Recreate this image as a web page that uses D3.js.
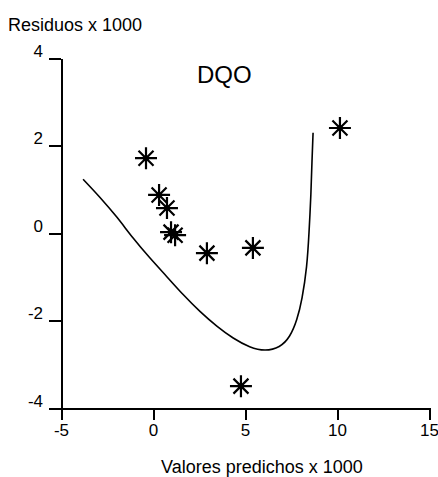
<!DOCTYPE html>
<html>
<head>
<meta charset="utf-8">
<script src="https://cdn.jsdelivr.net/npm/d3@7"></script>
<style>
  html, body { margin: 0; padding: 0; background: #fff; }
  svg text { font-family: Arial, "Liberation Sans", sans-serif; fill: #000; }
</style>
</head>
<body>
<svg id="chart" width="438" height="477"></svg>
<script>
// Residuals vs. predicted values (both x 1000)
const predicted = [-0.38, 0.33, 0.76, 0.98, 1.2, 2.93, 5.43, 10.16, 4.78];
const residuals = [1.71, 0.87, 0.57, 0.02, -0.05, -0.46, -0.34, 2.4, -3.5];

// Smoothed trend curve
const curveX = [-3.8, -2.88, -1.96, -1.09, -0.16, 0.76, 1.63, 2.55, 3.48, 4.35, 5.27, 6.09, 6.9, 7.45, 7.83, 8.1, 8.37, 8.48, 8.59, 8.64, 8.7];
const curveY = [1.23, 0.82, 0.37, -0.12, -0.58, -1.0, -1.41, -1.8, -2.14, -2.41, -2.62, -2.7, -2.62, -2.38, -1.99, -1.53, -0.78, 0.0, 0.91, 1.67, 2.29];

const xTicks = [-5, 0, 5, 10, 15];
const yTicks = [-4, -2, 0, 2, 4];

const svg = d3.select("#chart");

const x = d3.scaleLinear().domain([-5, 15]).range([61, 429]);
const y = d3.scaleLinear().domain([-4, 4]).range([408, 58]);

const minus = d => d < 0 ? "-" + Math.abs(d) : d;

// Y axis
const yAxis = svg.append("g")
  .attr("transform", `translate(${x(-5)},0)`)
  .call(d3.axisLeft(y).tickValues(yTicks).tickSize(12).tickSizeOuter(0).tickPadding(6)
    .tickFormat(minus));
yAxis.select(".domain").attr("stroke", "#000").attr("stroke-width", 2)
  .attr("shape-rendering", "crispEdges");
yAxis.selectAll(".tick line").attr("stroke", "#000").attr("stroke-width", 2)
  .attr("shape-rendering", "crispEdges");
yAxis.selectAll(".tick text")
  .attr("font-size", 17)
  .attr("dy", "-0.1em")
  .attr("font-family", "Arial, 'Liberation Sans', sans-serif");

// X axis
const xAxis = svg.append("g")
  .attr("transform", `translate(0,${y(-4)})`)
  .call(d3.axisBottom(x).tickValues(xTicks).tickSize(12).tickSizeOuter(0).tickPadding(4)
    .tickFormat(minus));
xAxis.select(".domain").attr("stroke", "#000").attr("stroke-width", 2)
  .attr("shape-rendering", "crispEdges");
xAxis.selectAll(".tick line").attr("stroke", "#000").attr("stroke-width", 2)
  .attr("shape-rendering", "crispEdges");
xAxis.selectAll(".tick text")
  .attr("font-size", 17)
  .attr("font-family", "Arial, 'Liberation Sans', sans-serif");

// Trend curve
const line = d3.line()
  .x(d => x(d[0]))
  .y(d => y(d[1]))
  .curve(d3.curveBasis);
svg.append("path")
  .datum(curveX.map((v, i) => [v, curveY[i]]))
  .attr("d", line)
  .attr("fill", "none")
  .attr("stroke", "#000")
  .attr("stroke-width", 1.6);

// Eight-armed asterisk markers
function asterisk(r, rd) {
  return `M0,${-r}V${r}M${-r},0H${r}M${-rd},${-rd}L${rd},${rd}M${-rd},${rd}L${rd},${-rd}`;
}
const pts = predicted.map((v, i) => [v, residuals[i]]);
svg.append("g").selectAll("path")
  .data(pts)
  .join("path")
  .attr("transform", d => `translate(${x(d[0])},${y(d[1])})`)
  .attr("d", asterisk(11, 7.5))
  .attr("fill", "none")
  .attr("stroke", "#000")
  .attr("stroke-width", 2.2);
svg.append("g").selectAll("circle")
  .data(pts)
  .join("circle")
  .attr("cx", d => x(d[0]))
  .attr("cy", d => y(d[1]))
  .attr("r", 2.8)
  .attr("fill", "#000");

// Titles
svg.append("text")
  .attr("x", 8).attr("y", 31)
  .attr("font-size", 18)
  .text("Residuos x 1000");

svg.append("text")
  .attr("x", 197).attr("y", 83)
  .attr("font-size", 24)
  .text("DQO");

svg.append("text")
  .attr("x", 262).attr("y", 473)
  .attr("text-anchor", "middle")
  .attr("font-size", 18)
  .text("Valores predichos x 1000");
</script>
</body>
</html>
